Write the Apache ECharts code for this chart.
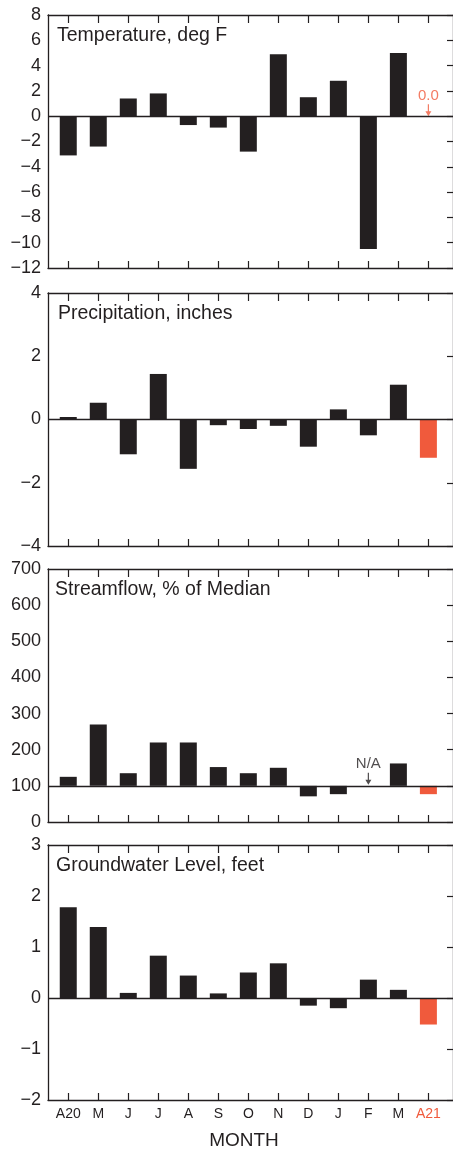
<!DOCTYPE html>
<html>
<head>
<meta charset="utf-8">
<script src="https://cdn.jsdelivr.net/npm/echarts@6/dist/echarts.min.js"></script>
<style>
html,body{margin:0;padding:0;background:#fff;}
#c{width:453px;height:1151px;}
</style>
</head>
<body>
<div id="c"></div>
<script>
// ---- data ----
const categories = ['A20','M','J','J','A','S','O','N','D','J','F','M','A21'];
const temperature = [-3.1,-2.4,1.4,1.8,-0.7,-0.9,-2.8,4.9,1.5,2.8,-10.5,5.0,0.0];
const precipitation = [0.08,0.53,-1.1,1.44,-1.56,-0.18,-0.3,-0.2,-0.86,0.32,-0.5,1.1,-1.21];
const streamflow = [125,270,135,220,220,152,135,150,71,77,null,162,77];
const groundwater = [1.78,1.39,0.1,0.83,0.44,0.09,0.5,0.68,-0.15,-0.2,0.36,0.16,-0.52];
const panelTitles = ['Temperature, deg F','Precipitation, inches','Streamflow, % of Median','Groundwater Level, feet'];
const tempTicks = [-12,-10,-8,-6,-4,-2,0,2,4,6,8];
const precipTicks = [-4,-2,0,2,4];
const streamTicks = [0,100,200,300,400,500,600,700];
const groundTicks = [-2,-1,0,1,2,3];
const baselines = [0,0,100,0];
const xTitle = 'MONTH';

// ---- styles ----
const DARK = '#231f20';
const RED = '#f05a3c';
const FONT = '"Liberation Sans", Arial, Helvetica, sans-serif';
const currentIdx = categories.length - 1;
const idx = categories.map((c,i)=>i);

const grids = [
  {left:48, right:-1, top:15, height:253},
  {left:48, right:-1, top:293, height:253},
  {left:48, right:-1, top:569, height:253},
  {left:48, right:-1, top:845, height:255}
];
const tickSets = [tempTicks, precipTicks, streamTicks, groundTicks];
const seriesData = [temperature, precipitation, streamflow, groundwater];

const xAxis = [], yAxis = [], series = [];
grids.forEach((g, k) => {
  const isLast = k === grids.length - 1;
  const common = {
    type:'value', gridIndex:k, min:-0.675, max:12.82,
    splitLine:{show:false},
    axisLine:{show:true, onZero:false, lineStyle:{color:DARK, width:1.3}}
  };
  xAxis.push(Object.assign({}, common, {
    position:'bottom',
    axisTick:{show:true, inside:true, length:7, customValues:idx, lineStyle:{color:DARK, width:1.2}},
    axisLabel:{show:isLast, customValues:idx, margin:7, fontSize:14, fontFamily:FONT, color:DARK,
      formatter:(v)=>{const i=Math.round(v); return i===currentIdx ? '{r|'+categories[i]+'}' : categories[i];},
      rich:{r:{color:RED, fontSize:14, fontFamily:FONT}}}
  }));
  xAxis.push(Object.assign({}, common, {
    position:'top',
    axisTick:{show:true, inside:true, length:8, customValues:idx, lineStyle:{color:DARK, width:1.2}},
    axisLabel:{show:false}
  }));
  const t = tickSets[k];
  const ycommon = {
    type:'value', gridIndex:k, min:t[0], max:t[t.length-1], interval:t[1]-t[0],
    splitLine:{show:false},
    axisLine:{show:true, onZero:false, lineStyle:{color:DARK, width:1.3}}
  };
  yAxis.push(Object.assign({}, ycommon, {
    position:'left',
    axisTick:{show:false},
    axisLabel:{show:true, margin:7, fontSize:18, fontFamily:FONT, color:DARK,
      formatter:(v)=>String(v).replace('-','\u2212')}
  }));
  yAxis.push(Object.assign({}, ycommon, {
    position:'right',
    axisTick:{show:true, inside:true, length:6, lineStyle:{color:DARK, width:1.2}},
    axisLabel:{show:false}
  }));
  const base = baselines[k];
  series.push({
    type:'custom',
    xAxisIndex:2*k, yAxisIndex:2*k,
    data: seriesData[k].map((v,i)=>[i, v]),
    encode:{x:0, y:1},
    renderItem:(params, api)=>{
      const x = api.value(0), v = api.value(1);
      if (v == null || isNaN(v)) return;
      const p0 = api.coord([x, base]);
      const p1 = api.coord([x, v]);
      const w = 17;
      return {type:'rect', shape:{x:p0[0]-w/2, y:Math.min(p0[1],p1[1]), width:w, height:Math.abs(p1[1]-p0[1])},
        style:{fill: x===currentIdx ? RED : DARK}};
    },
    markLine:{silent:true, symbol:'none', animation:false, label:{show:false},
      lineStyle:{color:DARK, width:1.3, type:'solid'},
      data:[{yAxis:base}]},
    z:2
  });
});

// annotations: value 0.0 for current temperature, N/A for missing streamflow
const arrowPath = 'path://M-0.6,0 L0.6,0 L0.6,7 L3,7 L0,12 L-3,7 L-0.6,7 Z';
series.push({
  type:'scatter', xAxisIndex:0, yAxisIndex:0,
  data: temperature.map((v,i)=>[i,v]).filter(d=>d[0]===currentIdx && d[1]===0),
  symbol: arrowPath, symbolSize:[6,12], symbolOffset:[0,-6], symbolKeepAspect:false,
  itemStyle:{color:RED},
  label:{show:true, position:'top', distance:1, fontSize:15, fontFamily:FONT, color:RED,
    formatter:(p)=>p.value[1].toFixed(1)},
  z:3
});
series.push({
  type:'scatter', xAxisIndex:4, yAxisIndex:4,
  data: streamflow.map((v,i)=>[i,v]).filter(d=>d[1]==null).map(d=>[d[0], baselines[2]]),
  symbol: arrowPath, symbolSize:[6,12], symbolOffset:[0,-7], symbolKeepAspect:false,
  itemStyle:{color:DARK},
  label:{show:true, position:'top', distance:1, fontSize:15, fontFamily:FONT, color:DARK,
    formatter:()=> 'N/A'},
  z:3
});

const titlePos = [[57,37],[58,315],[55,591],[56,867]];
const graphic = panelTitles.map((t,k)=>({
  type:'text', left:titlePos[k][0], top:titlePos[k][1]-11,
  style:{text:t, fontSize:19.5, fontFamily:FONT, fill:DARK}
}));
graphic.push({type:'text', x:244, y:1141,
  style:{text:xTitle, fontSize:19, fontFamily:FONT, fill:DARK, align:'center', verticalAlign:'middle'}});

const chart = echarts.init(document.getElementById('c'), null, {renderer:'canvas'});
chart.setOption({
  animation:false,
  backgroundColor:'#fff',
  grid: grids,
  xAxis, yAxis, series, graphic
});
</script>
</body>
</html>
